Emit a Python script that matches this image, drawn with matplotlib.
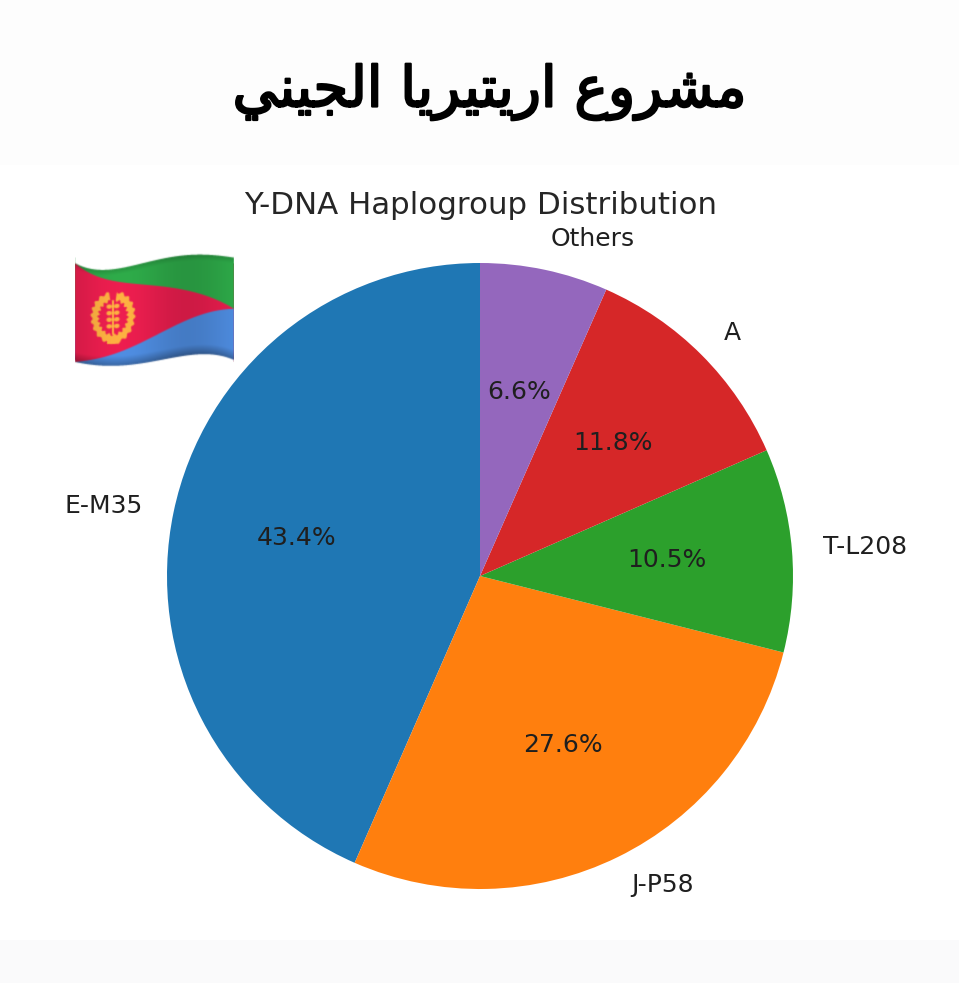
#!/usr/bin/env python3
import numpy as np
import matplotlib
matplotlib.use("Agg")
import matplotlib.pyplot as plt
import matplotlib.patheffects as pe

W, H = 959, 983

labels = ["E-M35", "J-P58", "T-L208", "A", "Others"]
shares = [43.4, 27.6, 10.5, 11.8, 6.6]
colors = ["#1f77b4", "#ff7f0e", "#2ca02c", "#d62728", "#9467bd"]
chart_title = "Y-DNA Haplogroup Distribution"

# matplotlib does not shape arabic: presentation forms, logical order, reversed when drawn
# "مشروع اريتيريا الجيني"
arabic_title = (
    "\ufee3\ufeb8\ufeae\ufeed\ufec9 "
    "\ufe8d\ufead\ufef3\ufe98\ufef4\ufeae\ufef3\ufe8e "
    "\ufe8d\ufedf\ufea0\ufef4\ufee8\ufef2"
)


def make_flag(w=159, h=116, ss=4):
    # flag emoji, rendered by hand as an image
    xs = (np.arange(w * ss) + 0.5) / ss
    ys = (np.arange(h * ss) + 0.5) / ss
    x, y = np.meshgrid(xs, ys)
    top = np.polyval(np.polyfit([0, 18, 52, 85, 128, 158], [11, 17.5, 14.5, 7.5, 2.5, 5.5], 4), x)
    bot = np.polyval(np.polyfit([0, 28, 68, 102, 128, 158], [110, 113.5, 111.5, 104.5, 102.5, 107.5], 4), x)
    u = x / w
    v = (y - top) / (bot - top)

    img = np.zeros((h * ss, w * ss, 4))
    img[..., :3] = (0.87, 0.11, 0.29)
    img[v < 0.5 * u, :3] = (0.17, 0.63, 0.27)
    img[v > 1 - 0.5 * u, :3] = (0.29, 0.52, 0.83)

    # wreath, stem and leaves
    gold = (0.93, 0.65, 0.24)
    dx = x - 38
    dy = (v - 0.5) * 95
    rho = np.hypot(dx / 21.5, dy / 25)
    ang = np.arctan2(dy, dx)
    wreath = (rho < 1 + 0.05 * np.sin(20 * ang)) & (rho > 0.68 + 0.05 * np.sin(20 * ang))
    wreath &= np.abs(np.degrees(ang) + 90) > 9
    stem = (np.abs(dx) < 1.0) & (np.abs(dy) < 17)
    foot = (np.abs(dx) < 6) & (dy > 21) & (dy < 26)
    img[wreath | stem | foot, :3] = gold
    for off in (-11, -4.5, 2, 8.5):
        for side in (-1, 1):
            blob = np.hypot((dx - side * 3.8) / 2.8, (dy - off) / 2.2) < 1
            img[blob, :3] = gold

    # soft folds of the cloth
    shade = 1 + 0.07 * np.sin(u * 7.5 - 0.6)
    shade -= 0.3 * np.clip((v - 0.9) / 0.1, 0, 1)
    shade -= 0.15 * np.clip((0.06 - v) / 0.06, 0, 1)
    img[..., :3] = np.clip(img[..., :3] * shade[..., None], 0, 1)
    img[..., 3] = ((v >= 0) & (v <= 1)).astype(float)

    # premultiplied box downsample, then a light blur
    stack = np.dstack([img[..., :3] * img[..., 3:], img[..., 3]])
    stack = stack.reshape(h, ss, w, ss, 4).mean(axis=(1, 3))
    stack = (stack * 2 + np.roll(stack, 1, 0) + np.roll(stack, -1, 0)
             + np.roll(stack, 1, 1) + np.roll(stack, -1, 1)) / 6
    a = stack[..., 3:]
    return np.dstack([stack[..., :3] / np.maximum(a, 1e-6), a])


fig = plt.figure(figsize=(W / 100, H / 100), dpi=100, facecolor="white")

# page layer in pixel coordinates
bg = fig.add_axes([0, 0, 1, 1])
bg.axis("off")
bg.add_patch(plt.Rectangle((0, 0), W, 165, color="#fdfdfd", lw=0))
bg.add_patch(plt.Rectangle((0, 940), W, 43, color="#fafafb", lw=0))
bg.imshow(make_flag(), extent=(75, 234, 368.5, 252.5), aspect="auto", zorder=3, interpolation="bilinear")
bg.set_xlim(0, W)
bg.set_ylim(H, 0)

# pie: centre 480,576, radius 313 px
R = 313
span = 1.3
size = 2 * span * R
ax = fig.add_axes([(480 - size / 2) / W, 1 - (576 + size / 2) / H, size / W, size / H])
wedges, texts, autotexts = ax.pie(
    shares,
    labels=labels,
    colors=colors,
    autopct="%1.1f%%",
    startangle=90,
    textprops={"fontsize": 18, "color": "#1f1f1f"},
)
ax.set_xlim(-span, span)
ax.set_ylim(-span, span)

fig.text(481 / W, 1 - 205 / H, chart_title, ha="center", va="center", fontsize=22.2, color="#262626")
title = fig.text(490 / W, 1 - 92 / H, arabic_title[::-1], ha="center", va="center", fontsize=40.5,
                 family="DejaVu Sans", color="black")
title.set_path_effects([pe.withStroke(linewidth=1.6, foreground="black")])

fig.savefig("out.png", dpi=100)
